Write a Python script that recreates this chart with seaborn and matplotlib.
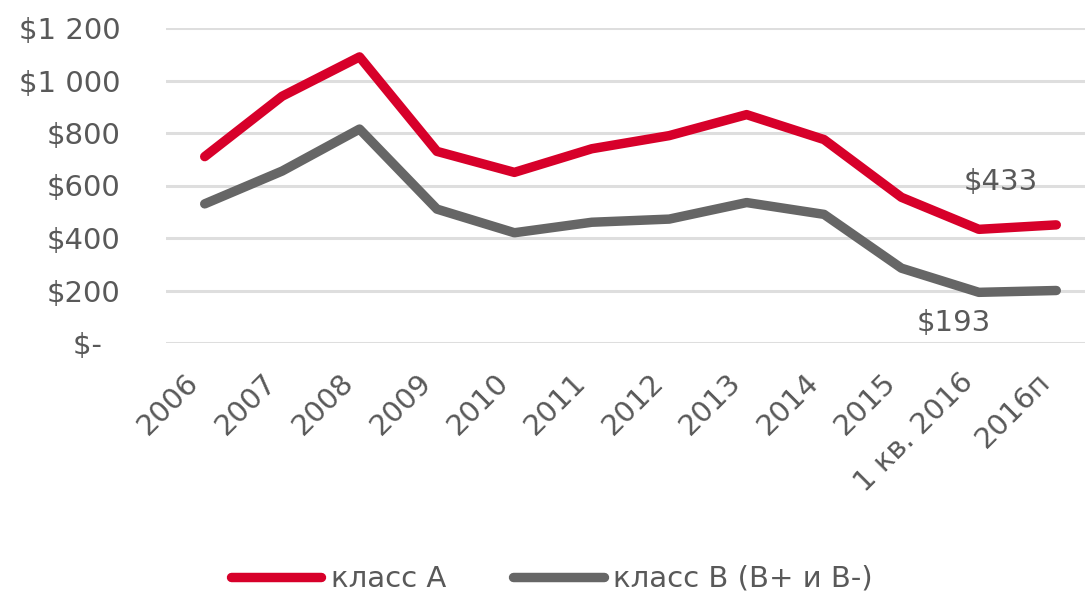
import matplotlib
matplotlib.use("Agg")
import matplotlib.pyplot as plt
from matplotlib.ticker import FuncFormatter
import seaborn as sns
import pandas as pd

# Periods and average asking rents (USD per sq. m per year)
periods = ["2006", "2007", "2008", "2009", "2010", "2011", "2012", "2013",
           "2014", "2015", "1 кв. 2016", "2016п"]
class_a = [710, 940, 1090, 730, 650, 740, 790, 870, 775, 555, 433, 450]
class_b = [530, 655, 815, 510, 420, 460, 472, 535, 490, 285, 193, 200]
series_names = ["класс А", "класс В (В+ и В-)"]
y_ticks = [0, 200, 400, 600, 800, 1000, 1200]

df = pd.DataFrame({
    "period": periods * 2,
    "rent": class_a + class_b,
    "series": [series_names[0]] * len(periods) + [series_names[1]] * len(periods),
})

sns.set_theme(style="white")
plt.rcParams["font.family"] = ["DejaVu Sans"]

FS = 21
text_color = "#595959"
palette = {series_names[0]: "#D7002A", series_names[1]: "#666666"}
LW = 6.8

fig = plt.figure(figsize=(10.85, 5.97), dpi=100)
ax = fig.add_axes([166 / 1085, 1 - 343 / 597, (1095 - 166) / 1085, (343 - 28) / 597])

sns.lineplot(data=df, x="period", y="rent", hue="series", palette=palette,
             linewidth=LW, sort=False, ax=ax, legend=True)
for line in ax.get_lines():
    line.set_solid_capstyle("round")
    line.set_solid_joinstyle("round")

ax.set_xlim(-0.5, len(periods) - 0.5)
ax.set_ylim(0, 1200)
ax.set_yticks(y_ticks)


def money(v, _pos):
    v = int(round(v))
    if v == 0:
        # accounting-style dash keeps some room on the right
        return "$-\u2007"
    return "$" + f"{v:,}".replace(",", " ")


ax.yaxis.set_major_formatter(FuncFormatter(money))
ax.grid(axis="y", color="#dedede", linewidth=2.2)
ax.grid(axis="x", visible=False)
ax.set_axisbelow(True)
for sp in ax.spines.values():
    sp.set_visible(False)
ax.set_xlabel("")
ax.set_ylabel("")
ax.tick_params(axis="y", length=0, pad=33, labelsize=FS, labelcolor=text_color)
ax.tick_params(axis="x", length=0, pad=18, labelsize=FS, labelcolor=text_color)
ax.set_xticks(range(len(periods)))
ax.set_xticklabels(periods, rotation=45, ha="right")

# Value labels for Q1 2016
idx = periods.index("1 кв. 2016")
ax.annotate(f"${class_a[idx]}", (idx, class_a[idx]), xytext=(22, 47),
            textcoords="offset pixels", ha="center", va="center",
            fontsize=FS, color=text_color)
ax.annotate(f"${class_b[idx]}", (idx, class_b[idx]), xytext=(-25, -31),
            textcoords="offset pixels", ha="center", va="center",
            fontsize=FS, color=text_color)

handles, labels = ax.get_legend_handles_labels()
ax.legend_.remove()
leg = fig.legend(handles, labels, loc="center left",
                 bbox_to_anchor=(231 / 1085, 1 - 579 / 597),
                 ncol=2, frameon=False, fontsize=FS, handlelength=3.1,
                 handletextpad=0.33, columnspacing=2.3,
                 borderpad=0, borderaxespad=0)
for t in leg.get_texts():
    t.set_color(text_color)
for h in leg.legend_handles:
    h.set_linewidth(LW)
    h.set_solid_capstyle("round")

fig.savefig("out.png", dpi=100)
